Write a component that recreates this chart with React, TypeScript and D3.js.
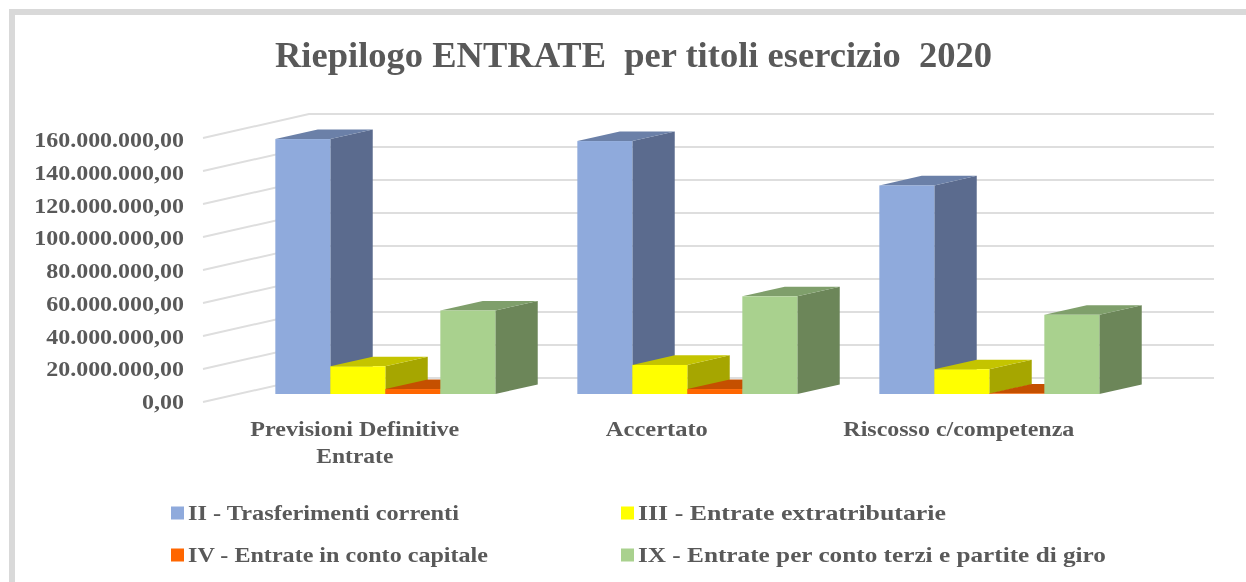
import React from "react";
import * as d3 from "d3";

const titleText = "Riepilogo ENTRATE\u00A0 per titoli esercizio\u00A0 2020";
const categories = ["Previsioni Definitive|Entrate", "Accertato", "Riscosso c/competenza"];
const seriesNames = [
  "II - Trasferimenti correnti",
  "III - Entrate extratributarie",
  "IV - Entrate in conto capitale",
  "IX - Entrate per conto terzi e partite di giro",
];
const trasferimenti = [154500000, 153300000, 126400000];
const extratributarie = [16800000, 17600000, 15000000];
const contoCapitale = [3000000, 3000000, 300000];
const contoTerzi = [50600000, 59200000, 48000000];
const seriesValues = [trasferimenti, extratributarie, contoCapitale, contoTerzi];
const frontColors = ["#8faadc", "#ffff00", "#ff6600", "#a9d18e"];
const topColors = ["#6b80a8", "#c4c400", "#c55000", "#7f9f6b"];
const sideColors = ["#5b6b8e", "#a6a600", "#c55000", "#6c8659"];
const yTicks = [0, 20000000, 40000000, 60000000, 80000000, 100000000, 120000000, 140000000, 160000000];

// Rendered text widths in the layout, kept apart from the data.
const legendWidths = [271, 308, 300, 468];
const categoryWidths: Record<string, number> = {
  "Previsioni Definitive": 209,
  Entrate: 77,
  Accertato: 102,
  "Riscosso c/competenza": 231,
};

const TEXT = "#595959";
const FONT = "'Liberation Serif', serif";
const fmt = (v: number) =>
  d3.format(",.2f")(v).replace(/,/g, "#").replace(".", ",").replace(/#/g, ".");

const y = d3.scaleLinear().domain([0, 160000000]).range([402, 138]);
const yLabel = d3.scaleLinear().domain([0, 160000000]).range([409, 147]);
const depthX = 106;
const depthY = -24;
const backRight = 1214;
const barBaseDrop = y(0) - 394;
const barStart = barBaseDrop / -depthY;
const barDepth = 0.4;
const bandLeft = 203 + depthX * barStart - 0.5;
const xCat = d3.scaleBand<number>().domain([0, 1, 2]).range([bandLeft, bandLeft + 906]);
const xSeries = d3.scaleBand<number>().domain([0, 1, 2, 3]).range([37.5, 37.5 + 220]);
const line = d3.line<[number, number]>().x((d) => d[0]).y((d) => d[1]);

function Bar({ x, w, value, i }: { x: number; w: number; value: number; i: number }) {
  const bottom = 394;
  const top = bottom - (y(0) - y(value));
  const dx = depthX * barDepth;
  const dy = depthY * barDepth;
  const poly = (pts: [number, number][]) => line(pts)! + "Z";
  return (
    <g>
      <path d={poly([[x + w, top], [x + w + dx, top + dy], [x + w + dx, bottom + dy], [x + w, bottom]])} fill={sideColors[i]} />
      <path d={poly([[x, top], [x + dx, top + dy], [x + w + dx, top + dy], [x + w, top]])} fill={topColors[i]} />
      <rect x={x} y={top} width={w} height={bottom - top} fill={frontColors[i]} />
    </g>
  );
}

export default function App() {
  return (
    <svg
      width={1246}
      height={582}
      style={{ position: "absolute", left: 0, top: 0, background: "#fff", filter: "blur(0.5px)" }}
      fontFamily={FONT}
    >
      <path d="M12 582V12H1246" fill="none" stroke="#d9d9d9" strokeWidth={6} />
      <text x={275} y={67} fontSize={35} fontWeight="bold" fill={TEXT} textLength={717} lengthAdjust="spacingAndGlyphs">
        {titleText}
      </text>
      {yTicks.map((t) => (
        <g key={t}>
          <path
            d={line([[203, y(t)], [203 + depthX, y(t) + depthY], [backRight, y(t) + depthY]])!}
            fill="none"
            stroke="#dedede"
            strokeWidth={2}
          />
          <text
            transform={`translate(184,${yLabel(t)}) scale(1.09,1)`}
            textAnchor="end"
            fontSize={22}
            fontWeight="bold"
            fill={TEXT}
          >
            {fmt(t)}
          </text>
        </g>
      ))}
      {categories.map((_, c) =>
        seriesValues.map((vals, s) => (
          <Bar key={`${c}-${s}`} x={xCat(c)! + xSeries(s)!} w={xSeries.bandwidth()} value={vals[c]} i={s} />
        ))
      )}
      {categories.map((cat, c) =>
        cat.split("|").map((ln, k) => (
          <text
            key={ln}
            x={xCat(c)! + xCat.bandwidth() / 2 - 34 - categoryWidths[ln] / 2}
            y={436 + k * 27}
            fontSize={22}
            fontWeight="bold"
            fill={TEXT}
            textLength={categoryWidths[ln]}
            lengthAdjust="spacingAndGlyphs"
          >
            {ln}
          </text>
        ))
      )}
      {seriesNames.map((n, i) => {
        const lx = i % 2 === 0 ? 171 : 621;
        const ly = i < 2 ? 513 : 555;
        return (
          <g key={n}>
            <rect x={lx} y={ly - 6.5} width={13} height={13} fill={frontColors[i]} />
            <text
              x={lx + 17}
              y={ly + 7}
              fontSize={22}
              fontWeight="bold"
              fill={TEXT}
              textLength={legendWidths[i]}
              lengthAdjust="spacingAndGlyphs"
            >
              {n}
            </text>
          </g>
        );
      })}
    </svg>
  );
}
